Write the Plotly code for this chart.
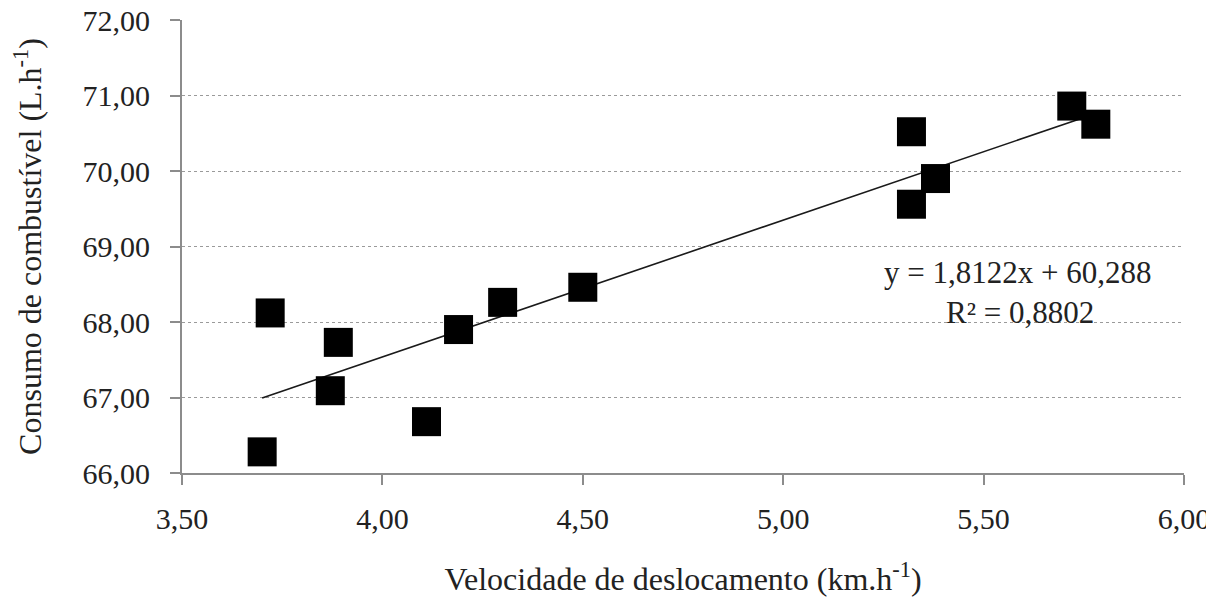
import plotly.graph_objects as go

# Data
velocidade = [3.70, 3.72, 3.87, 3.89, 4.11, 4.19, 4.30, 4.50, 5.32, 5.32, 5.38, 5.72, 5.78]
consumo = [66.28, 68.12, 67.09, 67.73, 66.68, 67.90, 68.26, 68.46, 70.52, 69.56, 69.90, 70.86, 70.62]

slope = 1.8122
intercept = 60.288
r2_text = "0,8802"

x_ticks = [3.5, 4.0, 4.5, 5.0, 5.5, 6.0]
y_ticks = [66, 67, 68, 69, 70, 71, 72]

font_family = "'Liberation Serif', 'Times New Roman', 'DejaVu Serif', serif"
text_color = "#222222"
axis_color = "#8c8c8c"

x_fit = [min(velocidade), max(velocidade)]
y_fit = [slope * v + intercept for v in x_fit]

fig = go.Figure()
fig.add_trace(go.Scatter(
    x=x_fit, y=y_fit, mode="lines",
    line=dict(color="#1a1a1a", width=1.6),
    showlegend=False, hoverinfo="skip",
))
fig.add_trace(go.Scatter(
    x=velocidade, y=consumo, mode="markers",
    marker=dict(symbol="square", size=29, color="#000000",
                line=dict(width=0)),
    showlegend=False,
))

fig.add_annotation(
    x=5.585, y=68.65, xref="x", yref="y",
    text="y = 1,8122x + 60,288", showarrow=False,
    font=dict(family=font_family, size=31, color=text_color),
    xanchor="center", yanchor="middle",
)
fig.add_annotation(
    x=5.59, y=68.12, xref="x", yref="y",
    text="R² = " + r2_text, showarrow=False,
    font=dict(family=font_family, size=31, color=text_color),
    xanchor="center", yanchor="middle",
)

tick_font = dict(family=font_family, size=30, color=text_color)
title_font = dict(family=font_family, size=32, color=text_color)

fig.update_layout(
    width=1206, height=598,
    margin=dict(l=174, r=30, t=12, b=133, autoexpand=False),
    paper_bgcolor="white", plot_bgcolor="white",
    separators=",.",
    font=dict(family=font_family, size=30, color=text_color),
    xaxis=dict(
        range=[3.5, 6.0], tickvals=x_ticks, tickformat=".2f",
        automargin=False, ticklabeloverflow="allow",
        showgrid=False, zeroline=False,
        showline=True, linecolor=axis_color, linewidth=2,
        ticks="outside", ticklen=10, tickwidth=2, tickcolor=axis_color,
        ticklabelstandoff=8, tickfont=tick_font,
        title=dict(text="Velocidade de deslocamento (km.h<sup>-1</sup>)",
                   font=title_font, standoff=34),
    ),
    yaxis=dict(
        range=[66, 72], tickvals=y_ticks, tickformat=".2f",
        automargin=False, ticklabeloverflow="allow",
        showgrid=True, gridcolor="#9a9a9a", griddash="dot", gridwidth=1,
        zeroline=False,
        showline=True, linecolor=axis_color, linewidth=2,
        ticks="outside", ticklen=10, tickwidth=2, tickcolor=axis_color,
        ticklabelstandoff=14, tickfont=tick_font,
        title=dict(text="Consumo de combustível (L.h<sup>-1</sup>)",
                   font=title_font, standoff=35),
    ),
)

fig.write_html("out.html")
